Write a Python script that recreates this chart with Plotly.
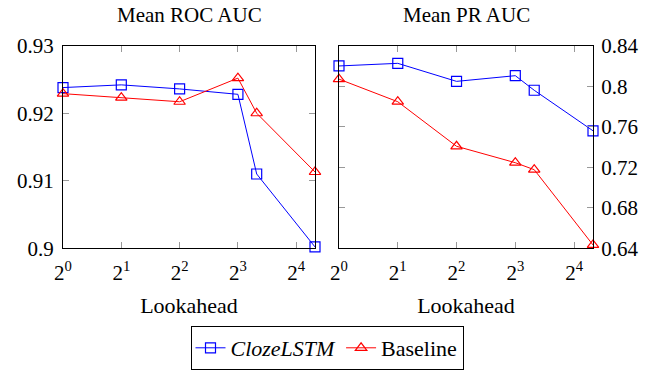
import math
import plotly.graph_objects as go

lookahead = [1, 2, 4, 8, 10, 20]
roc_cloze = [0.9238, 0.9242, 0.9236, 0.9228, 0.9110, 0.9002]
roc_base = [0.9229, 0.9223, 0.9217, 0.9252, 0.9200, 0.9113]
pr_cloze = [0.820, 0.8226, 0.8048, 0.8104, 0.796, 0.756]
pr_base = [0.807, 0.7847, 0.7407, 0.7245, 0.7176, 0.6433]
xtick_vals = [1, 2, 4, 8, 16]
xtick_text = ["2<sup>0</sup>", "2<sup>1</sup>", "2<sup>2</sup>", "2<sup>3</sup>", "2<sup>4</sup>"]
roc_ticks = [0.90, 0.91, 0.92, 0.93]
roc_text = ["0.9", "0.91", "0.92", "0.93"]
pr_ticks = [0.64, 0.68, 0.72, 0.76, 0.80, 0.84]
pr_text = ["0.64", "0.68", "0.72", "0.76", "0.8", "0.84"]

FONT = "Liberation Serif"
W, H = 665, 371
BLUE, RED = "#0000ff", "#ff0000"

fig = go.Figure()
cloze_style = dict(mode="lines+markers", line=dict(color=BLUE, width=1), cliponaxis=False,
                   marker=dict(symbol="square-open", size=10, color=BLUE, line=dict(width=1.2)))
base_style = dict(mode="lines+markers", line=dict(color=RED, width=1), cliponaxis=False,
                  marker=dict(symbol="triangle-up-open", size=10, color=RED, line=dict(width=1.2)))

fig.add_trace(go.Scatter(x=lookahead, y=roc_cloze, name="<i>ClozeLSTM</i>", xaxis="x", yaxis="y",
                         legendgroup="c", **cloze_style))
fig.add_trace(go.Scatter(x=lookahead, y=roc_base, name="Baseline", xaxis="x", yaxis="y",
                         legendgroup="b", **base_style))
fig.add_trace(go.Scatter(x=lookahead, y=pr_cloze, name="<i>ClozeLSTM</i>", xaxis="x2", yaxis="y2",
                         legendgroup="c", showlegend=False, **cloze_style))
fig.add_trace(go.Scatter(x=lookahead, y=pr_base, name="Baseline", xaxis="x2", yaxis="y2",
                         legendgroup="b", showlegend=False, **base_style))

ydom = [1 - 248.3 / H, 1 - 45.7 / H]
common_axis = dict(showline=True, linecolor="black", linewidth=1, mirror="allticks",
                   ticks="inside", tickcolor="#999999", ticklen=6, tickwidth=1,
                   showgrid=False, zeroline=False, automargin=False,
                   tickfont=dict(family=FONT, size=21, color="black"))
xtitle = dict(text="Lookahead", font=dict(family=FONT, size=22), standoff=14)

xr = [0, math.log10(20)]
fig.update_layout(
    width=W, height=H, margin=dict(l=0, r=0, t=0, b=0), autosize=False,
    paper_bgcolor="white", plot_bgcolor="white",
    font=dict(family=FONT, color="black"),
    xaxis=dict(domain=[63 / W, 315 / W], type="log", range=xr, tickvals=xtick_vals, ticktext=xtick_text,
               anchor="y", title=xtitle, ticklabelstandoff=5, **common_axis),
    yaxis=dict(domain=ydom, range=[0.90, 0.93], tickvals=roc_ticks, ticktext=roc_text, anchor="x",
               ticklabelstandoff=4, **common_axis),
    xaxis2=dict(domain=[339 / W, 593 / W], type="log", range=xr, tickvals=xtick_vals, ticktext=xtick_text,
                anchor="y2", title=xtitle, ticklabelstandoff=5, **common_axis),
    yaxis2=dict(domain=ydom, range=[0.64, 0.84], tickvals=pr_ticks, ticktext=pr_text, anchor="x2",
                side="right", ticklabelstandoff=3, **common_axis),
    legend=dict(orientation="h", x=327 / W, xanchor="center", y=1 - 348 / H, yanchor="middle",
                bordercolor="black", borderwidth=1, bgcolor="white",
                font=dict(family=FONT, size=22, color="black"), tracegroupgap=0),
    annotations=[
        dict(text="Mean ROC AUC", x=(63 + 315) / 2 / W, y=1 - 15 / H, xref="paper", yref="paper",
             xanchor="center", yanchor="middle",
             showarrow=False, font=dict(family=FONT, size=21)),
        dict(text="Mean PR AUC", x=(339 + 593) / 2 / W, y=1 - 15 / H, xref="paper", yref="paper",
             xanchor="center", yanchor="middle",
             showarrow=False, font=dict(family=FONT, size=21)),
    ],
)

fig.write_html("out.html", config={"displayModeBar": False},
               post_script="document.body.style.margin='0';")
